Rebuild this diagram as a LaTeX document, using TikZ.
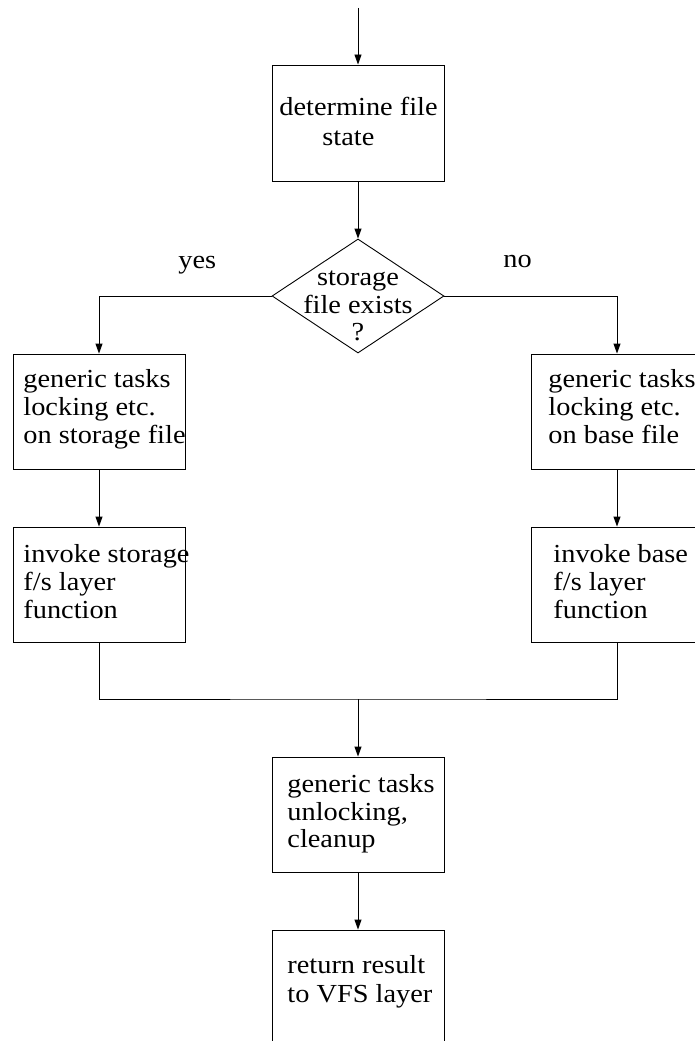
\documentclass[tikz,border=0pt]{standalone}
\usepackage{fontspec}
\setmainfont[FakeStretch=1.09]{Liberation Serif}
\usetikzlibrary{shapes.geometric,arrows.meta}

\begin{document}
\begin{tikzpicture}[x=1pt,y=-1pt,
  line width=0.9pt,
  every node/.style={font=\fontsize{26}{28}\selectfont},
  stepbox/.style={draw, rectangle, minimum width=172pt, inner sep=0pt},
  decision/.style={draw, diamond, minimum width=172pt, minimum height=114pt, inner sep=0pt},
  lbl/.style={anchor=base west, inner sep=0pt},
  clbl/.style={anchor=base, inner sep=0pt},
  arr/.style={-{Triangle[length=10pt,width=7pt]}}
]
\useasboundingbox (0,0) rectangle (695,1041);
\clip (0,0) rectangle (695,1041);

% boxes
\node[stepbox, minimum height=116pt] (state) at (358,123) {};
\node[decision] (exists) at (358,296) {};
\node[stepbox, minimum height=115pt] (lockS) at (99,411.5) {};
\node[stepbox, minimum height=115pt] (invS) at (99,584.5) {};
\node[stepbox, minimum height=115pt] (lockB) at (617,411.5) {};
\node[stepbox, minimum height=115pt] (invB) at (617,584.5) {};
\node[stepbox, minimum height=115pt] (clean) at (358,814.5) {};
\node[stepbox, minimum height=140pt] (ret) at (358,1000) {};

% box texts
\node[lbl] (s1) at (279,115) {determine file};
\node[lbl] (s2) at (322,145) {state};

\node[clbl] (e1) at (358,285) {storage};
\node[clbl] (e2) at (358,313) {file exists};
\node[clbl] (e3) at (358,340) {?};

\node[lbl] (yes) at (178,268) {yes};
\node[lbl] (no) at (503,267) {no};

\node[lbl] (ls1) at (23,387) {generic tasks};
\node[lbl] (ls2) at (23,415) {locking etc.};
\node[lbl] (ls3) at (23,443) {on storage file};

\node[lbl] (is1) at (23,562) {invoke storage};
\node[lbl] (is2) at (23,590) {f/s layer};
\node[lbl] (is3) at (23,618) {function};

\node[lbl] (lb1) at (548,387) {generic tasks};
\node[lbl] (lb2) at (548,415) {locking etc.};
\node[lbl] (lb3) at (548,443) {on base file};

\node[lbl] (ib1) at (553,562) {invoke base};
\node[lbl] (ib2) at (553,590) {f/s layer};
\node[lbl] (ib3) at (553,618) {function};

\node[lbl] (c1) at (287,792) {generic tasks};
\node[lbl] (c2) at (287,820) {unlocking,};
\node[lbl] (c3) at (287,847) {cleanup};

\node[lbl] (r1) at (287,973) {return result};
\node[lbl] (r2) at (287,1002) {to VFS layer};

% connectors
\coordinate (entry) at (358,8);
\coordinate (join) at (358,699);
\draw[arr] (entry) -- (state.north);
\draw[arr] (state.south) -- (exists.north);
\draw[arr] (exists.west) -| (lockS.north);
\draw[arr] (exists.east) -| (lockB.north);
\draw[arr] (lockS.south) -- (invS.north);
\draw[arr] (lockB.south) -- (invB.north);
\draw (invS.south) |- (join) -| (invB.south);
\draw[arr] (join) -- (clean.north);
\draw[arr] (clean.south) -- (ret.north);
\end{tikzpicture}
\end{document}
